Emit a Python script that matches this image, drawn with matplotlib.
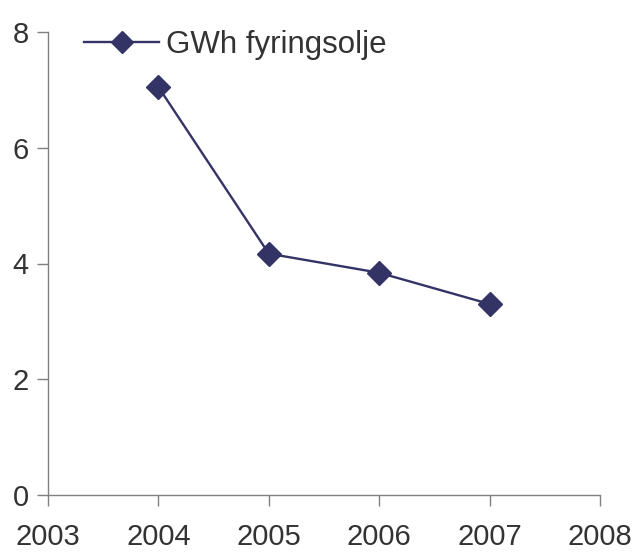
import matplotlib.pyplot as plt

years = [2004, 2005, 2006, 2007]
gwh = [7.05, 4.17, 3.84, 3.30]
x_ticks = [2003, 2004, 2005, 2006, 2007, 2008]
y_ticks = [0, 2, 4, 6, 8]

plt.rcParams["font.family"] = ["Liberation Sans", "DejaVu Sans"]

fig = plt.figure(figsize=(6.37, 5.52), dpi=100)
ax = fig.add_axes([48 / 637, 1 - 495 / 552, (600 - 48) / 637, (495 - 32) / 552])

ax.plot(years, gwh, color="#333366", lw=1.7, marker="D", markersize=12,
        label="GWh fyringsolje")

ax.set_xlim(2003, 2008)
ax.set_ylim(0, 8)
ax.set_xticks(x_ticks)
ax.set_yticks(y_ticks)

for s in ["top", "right"]:
    ax.spines[s].set_visible(False)
for s in ["left", "bottom"]:
    ax.spines[s].set_color("#808080")
    ax.spines[s].set_linewidth(1)
ax.tick_params(colors="#808080", labelcolor="#333333", labelsize=21, length=8, width=1)
ax.tick_params(axis="x", pad=12)
ax.tick_params(axis="y", pad=6)

ax.legend(loc="upper left", bbox_to_anchor=(0.015, 1.065), frameon=False,
          fontsize=22.5, handlelength=2.4, handletextpad=0.2, labelcolor="#333333",
          markerscale=0.9)

fig.savefig("out.png")
